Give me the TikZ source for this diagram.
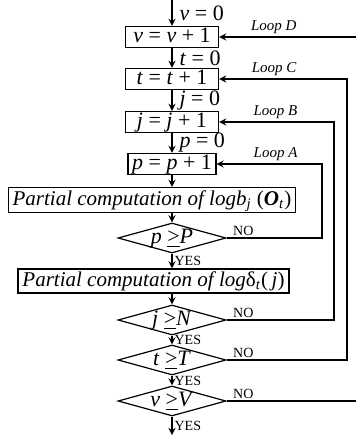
\documentclass[tikz,border=0pt]{standalone}
\usepackage{fontspec}
\setmainfont{Liberation Serif}
\usetikzlibrary{shapes.geometric, arrows}

\newcommand{\geqline}{\underline{>}}

\begin{document}
\begin{tikzpicture}[node distance=21pt,
        % styles
        process/.style = {
                rectangle, draw=black, line width=0.6pt,
                inner xsep=2pt, inner ysep=0.5pt,
                text height=7.5pt, text depth=2pt,
                minimum width=46.5pt, minimum height=10.5pt,
                text centered, font=\fontsize{11}{12}\selectfont
            },
        partial/.style = {
                process, font=\fontsize{10.5}{12}\selectfont
            },
        decision/.style = {
                diamond, aspect=4, draw=black, line width=0.6pt,
                inner sep=0pt, minimum width=54pt, minimum height=15pt,
                text height=5.4pt, text depth=0pt,
                text centered, font=\fontsize{11}{12}\selectfont
            },
        arrow/.style = {
                line width=0.6pt, ->, >=stealth
            },
        init/.style = {
                anchor=west, inner sep=1pt, xshift=2.5pt,
                font=\fontsize{11}{12}\selectfont
            },
        answer/.style = {
                inner sep=1pt, font=\fontsize{7}{8}\selectfont
            },
        looplabel/.style = {
                above, inner sep=1.5pt, font=\fontsize{7.5}{8}\selectfont\itshape
            }]

    \useasboundingbox (-86pt,0pt) rectangle (92pt,-219pt);
    \coordinate (start) at (0,0);
    % loop columns
    \coordinate (colA) at (75pt,0);
    \coordinate (colB) at (81pt,0);
    \coordinate (colC) at (87.5pt,0);
    \coordinate (colD) at (92pt,0);

    \node (vinc) [process, node distance=18.5pt, below of=start] {\textit{v} = \textit{v} + 1};
    \node (tinc) [process, below of=vinc] {\textit{t} = \textit{t} + 1};
    \node (jinc) [process, node distance=21.5pt, below of=tinc] {\textit{j} = \textit{j} + 1};
    \node (pinc) [process, below of=jinc, minimum width=42.5pt] {\textit{p} = \textit{p} + 1};
    \node (logb) [partial, node distance=18pt, below of=pinc, xshift=-10pt, minimum width=143pt, minimum height=12.5pt] {\textit{Partial computation of logb}\textsubscript{\textit{j}} (\textbf{\textit{O}}\textsubscript{\textit{t}})};
    \node (dP) [decision, node distance=19pt, below of=logb, xshift=10pt] {\textit{p} \geqline\textit{P}};
    \node (logd) [partial, node distance=21.5pt, below of=dP, xshift=-9.25pt, minimum width=135.5pt, minimum height=12pt] {\textit{Partial computation of log}δ\textsubscript{\textit{t}}(\,\textit{j})};
    \node (dN) [decision, node distance=19.5pt, below of=logd, xshift=9.25pt] {\textit{j} \geqline\textit{N}};
    \node (dT) [decision, node distance=20pt, below of=dN] {\textit{t} \geqline\textit{T}};
    \node (dV) [decision, node distance=20.5pt, below of=dT] {\textit{v} \geqline\textit{V}};
    \node (finish) [coordinate, node distance=17pt, below of=dV] {};

    % arrows
    \draw [arrow] (start) -- node[init] {\textit{v} = 0} (vinc);
    \draw [arrow] (vinc) -- node[init] {\textit{t} = 0} (tinc);
    \draw [arrow] (tinc) -- node[init] {\textit{j} = 0} (jinc);
    \draw [arrow] (jinc) -- node[init] {\textit{p} = 0} (pinc);
    \draw [arrow] (pinc) -- (pinc |- logb.north);
    \draw [arrow] (dP |- logb.south) -- (dP);
    \draw [arrow] (dP) -- node[answer, right] {YES} (dP |- logd.north);
    \draw [arrow] (dN |- logd.south) -- (dN);
    \draw [arrow] (dN) -- node[answer, right] {YES} (dT);
    \draw [arrow] (dT) -- node[answer, right] {YES} (dV);
    \draw [arrow] (dV) -- node[answer, right] {YES} (finish);

    % loops
    \draw [arrow] (dP.east) node[answer, anchor=south west, xshift=2pt] {NO} -| (colA |- pinc.east) -- node[looplabel, pos=0.44] {Loop A} (pinc.east);
    \draw [arrow] (dN.east) node[answer, anchor=south west, xshift=2pt] {NO} -| (colB |- jinc.east) -- node[looplabel, pos=0.51] {Loop B} (jinc.east);
    \draw [arrow] (dT.east) node[answer, anchor=south west, xshift=2pt] {NO} -| (colC |- tinc.east) -- node[looplabel, pos=0.57] {Loop C} (tinc.east);
    \draw [line width=0.6pt] (dV.east) node[answer, anchor=south west, xshift=2pt] {NO} -- (dV.east -| colD);
    \draw [arrow] (colD |- vinc.east) -- node[looplabel, pos=0.6] {Loop D} (vinc.east);

\end{tikzpicture}
\end{document}
